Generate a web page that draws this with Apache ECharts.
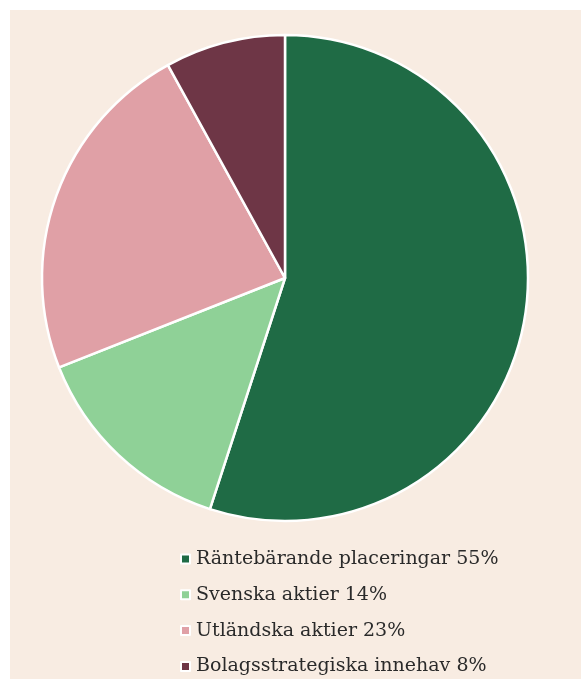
<!DOCTYPE html>
<html>
<head>
<meta charset="utf-8">
<script src="https://cdn.jsdelivr.net/npm/echarts@6/dist/echarts.min.js"></script>
<style>
html,body{margin:0;padding:0;background:#ffffff;}
#c{position:absolute;left:10px;top:10px;width:571px;height:669px;background:#f8ece2;}
</style>
</head>
<body>
<div id="c"></div>
<script>
const categories = ["Räntebärande placeringar", "Svenska aktier", "Utländska aktier", "Bolagsstrategiska innehav"];
const values = [55, 14, 23, 8];
const colors = ["#1f6b45", "#8fd197", "#e0a0a6", "#6e3646"];

const chart = echarts.init(document.getElementById('c'), null, {renderer: 'canvas'});
const data = categories.map((n, i) => ({name: n, value: values[i], itemStyle: {color: colors[i]}}));
chart.setOption({
  backgroundColor: '#f8ece2',
  animation: false,
  legend: {
    orient: 'vertical',
    left: 170,
    top: 539.5,
    padding: 0,
    icon: 'rect',
    itemWidth: 9,
    itemHeight: 9,
    itemGap: 16.8,
    formatter: function (name) {
      const i = categories.indexOf(name);
      return name + ' ' + values[i] + '%';
    },
    textStyle: {fontFamily: 'DejaVu Serif', fontSize: 19, lineHeight: 19, color: '#2a2a2a', padding: [0,0,0,1]},
    data: categories
  },
  series: [{
    type: 'pie',
    center: [275, 268],
    radius: [0, 243],
    startAngle: 90,
    clockwise: true,
    label: {show: false},
    labelLine: {show: false},
    itemStyle: {borderColor: '#ffffff', borderWidth: 2.5},
    data: data
  }]
});
</script>
</body>
</html>
